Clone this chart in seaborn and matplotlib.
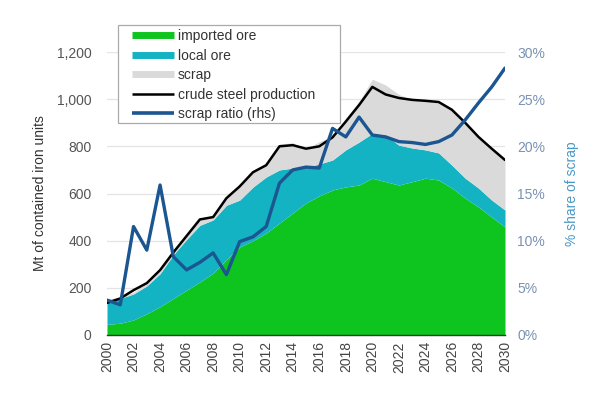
import numpy as np
import pandas as pd
import matplotlib
matplotlib.use("Agg")
import matplotlib.pyplot as plt
from matplotlib.patches import Rectangle
from matplotlib.lines import Line2D
from matplotlib.ticker import FuncFormatter, MultipleLocator
import seaborn as sns

years = list(range(2000, 2031))
imported_ore = [45, 50, 64, 90, 120, 155, 190, 225, 262, 320, 373, 400, 432, 475, 517, 560, 590, 615, 628, 636, 665, 650, 636, 650, 665, 657, 623, 580, 543, 500, 458]
local_ore = [103, 105, 110, 118, 140, 185, 215, 240, 226, 230, 199, 227, 238, 225, 191, 152, 135, 127, 157, 182, 190, 198, 169, 143, 120, 115, 97, 85, 80, 72, 72]
scrap = [5, 5, 8, 10, 12, 12, 18, 25, 20, 32, 60, 66, 50, 110, 107, 75, 95, 100, 135, 172, 230, 212, 215, 205, 210, 213, 235, 235, 217, 218, 215]
crude_steel = [136, 155, 190, 220, 275, 350, 420, 490, 500, 580, 630, 690, 720, 800, 805, 790, 800, 838, 905, 975, 1052, 1020, 1005, 997, 993, 988, 955, 900, 840, 790, 742]
scrap_ratio = [3.7, 3.2, 11.5, 9.0, 15.9, 8.3, 6.9, 7.7, 8.7, 6.4, 9.9, 10.4, 11.5, 16.1, 17.5, 17.8, 17.7, 21.9, 21.0, 23.1, 21.2, 21.0, 20.5, 20.4, 20.2, 20.5, 21.2, 22.8, 24.6, 26.3, 28.3]

series_labels = ["imported ore", "local ore", "scrap", "crude steel production", "scrap ratio (rhs)"]

df = pd.DataFrame({"year": years, "imported": imported_ore, "local": local_ore,
                   "scrap": scrap, "crude": crude_steel, "ratio": scrap_ratio})

sns.set_style("white")
plt.rcParams["font.family"] = ["Liberation Sans", "DejaVu Sans"]

c_green = "#0ec41e"
c_cyan = "#14b3c3"
c_gray = "#dadada"
c_blue = "#1b5691"

fig = plt.figure(figsize=(6.08, 4.00), dpi=100)
ax = fig.add_axes([107 / 608, 1 - 335 / 400, (505 - 107) / 608, (335 - 52) / 400])

ax.stackplot(df["year"], df["imported"], df["local"], df["scrap"],
             colors=[c_green, c_cyan, c_gray], linewidth=0, zorder=2)
sns.lineplot(data=df, x="year", y="crude", ax=ax, color="black", linewidth=1.8, zorder=3)

ax.set_xlim(2000, 2030)
ax.set_ylim(0, 1200)
ax.yaxis.set_major_locator(MultipleLocator(200))
ax.yaxis.set_major_formatter(FuncFormatter(lambda v, p: f"{int(v):,}"))
ax.grid(axis="y", color="#e4e4e4", linewidth=0.9, zorder=0)
ax.set_axisbelow(True)
ax.set_xticks(list(range(2000, 2031, 2)))
ax.set_xticks(years, minor=True)
ax.tick_params(axis="x", which="both", direction="inout", length=5, width=0.9, color="#333333",
               labelrotation=90, labelsize=10, labelcolor="#444444", pad=2)
ax.tick_params(axis="y", length=0, labelsize=10, labelcolor="#555555", pad=11)
for s in ["left", "right", "top"]:
    ax.spines[s].set_visible(False)
ax.spines["bottom"].set_color("#333333")
ax.spines["bottom"].set_linewidth(1.0)
ax.spines["bottom"].set_zorder(5)
ax.set_xlabel("")
ax.set_ylabel("Mt of contained iron units", fontsize=10, color="#333333", labelpad=7)

ax2 = ax.twinx()
sns.lineplot(data=df, x="year", y="ratio", ax=ax2, color=c_blue, linewidth=2.4, zorder=4)
ax2.set_ylim(0, 30)
ax2.yaxis.set_major_locator(MultipleLocator(5))
ax2.yaxis.set_major_formatter(FuncFormatter(lambda v, p: f"{int(v)}%"))
ax2.tick_params(axis="y", length=0, labelsize=10, labelcolor="#7a92b3", pad=9)
for s in ["left", "right", "top", "bottom"]:
    ax2.spines[s].set_visible(False)
ax2.set_xlabel("")
ax2.set_ylabel("% share of scrap", fontsize=10, color="#4a98c6", labelpad=14)
ax2.grid(False)

# legend frame drawn as a figure-level box
fig.patches.append(Rectangle((118 / 608, 1 - 123 / 400), (340 - 118) / 608, (123 - 25) / 400,
                             transform=fig.transFigure, facecolor="white",
                             edgecolor="#aaaaaa", linewidth=0.9, zorder=10))

handles = [Line2D([0], [0], color=c_green, linewidth=5, solid_capstyle="butt"),
           Line2D([0], [0], color=c_cyan, linewidth=5, solid_capstyle="butt"),
           Line2D([0], [0], color=c_gray, linewidth=5, solid_capstyle="butt"),
           Line2D([0], [0], color="black", linewidth=1.8, solid_capstyle="butt"),
           Line2D([0], [0], color=c_blue, linewidth=2.6, solid_capstyle="butt")]
leg = fig.legend(handles, series_labels, loc="upper left",
                 bbox_to_anchor=(132 / 608, 1 - 29 / 400), frameon=False,
                 fontsize=10, handlelength=3.0, handletextpad=0.3, labelspacing=0.4,
                 borderpad=0, borderaxespad=0)
leg.set_zorder(11)
for t in leg.get_texts():
    t.set_color("#333333")

fig.savefig("out.png", dpi=100)
